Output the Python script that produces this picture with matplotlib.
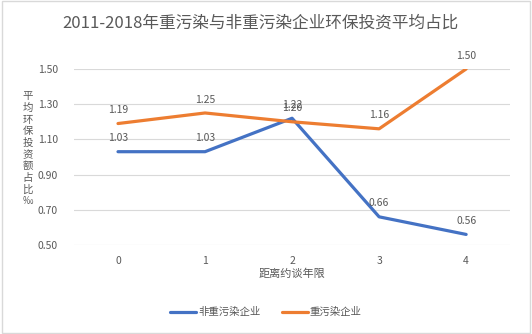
import matplotlib.pyplot as plt
from matplotlib.patches import Rectangle

plt.rcParams['font.family'] = ['Noto Sans CJK SC', 'DejaVu Sans']

years = [0, 1, 2, 3, 4]
non_heavy = [1.03, 1.03, 1.22, 0.66, 0.56]
heavy = [1.19, 1.25, 1.20, 1.16, 1.50]
yticks = [0.50, 0.70, 0.90, 1.10, 1.30, 1.50]

blue = '#4472C4'
orange = '#ED7D31'
gray = '#595959'

fig = plt.figure(figsize=(5.32, 3.34), dpi=100)
ax = fig.add_axes([0.140, 0.2665, 0.818, 0.527])

ax.plot(years, non_heavy, color=blue, lw=2.3, label='非重污染企业', solid_capstyle='round')
ax.plot(years, heavy, color=orange, lw=2.3, label='重污染企业', solid_capstyle='round')

for x, y in zip(years, non_heavy):
    ax.annotate('%.2f' % y, (x, y), xytext=(0, 6), textcoords='offset points',
                ha='center', va='bottom', fontsize=7.5, color=gray)
for x, y in zip(years, heavy):
    ax.annotate('%.2f' % y, (x, y), xytext=(0, 6), textcoords='offset points',
                ha='center', va='bottom', fontsize=7.5, color=gray)

ax.set_xlim(-0.5, 4.5)
ax.set_ylim(0.5, 1.5)
ax.set_xticks(years)
ax.set_yticks(yticks)
ax.set_yticklabels(['%.2f' % v for v in yticks])
ax.tick_params(length=0, labelsize=7.5, colors=gray, pad=12)
ax.tick_params(axis='x', pad=8)
ax.grid(axis='y', color='#D9D9D9', lw=0.8)
ax.set_axisbelow(True)
for s in ax.spines.values():
    s.set_visible(False)

ax.set_xlabel('距离约谈年限', fontsize=8, color=gray, labelpad=2)
fig.text(0.052, 0.554, '\n'.join('平均环保投资额占比‰'), fontsize=7.5, color=gray,
         ha='center', va='center', linespacing=1.2)

fig.text(0.49, 0.932, '2011-2018年重污染与非重污染企业环保投资平均占比',
         fontsize=12, color=gray, ha='center', va='center')

ax.legend(loc='center', bbox_to_anchor=(0.5, 0.065), bbox_transform=fig.transFigure,
          ncol=2, frameon=False, fontsize=7.5, labelcolor=gray, handlelength=2.5,
          columnspacing=2, handletextpad=0.2)

fig.patches.append(Rectangle((0.003, 0.003), 0.994, 0.994, transform=fig.transFigure,
                             fill=False, edgecolor='#D9D9D9', lw=1))

fig.savefig('out.png', dpi=100)
